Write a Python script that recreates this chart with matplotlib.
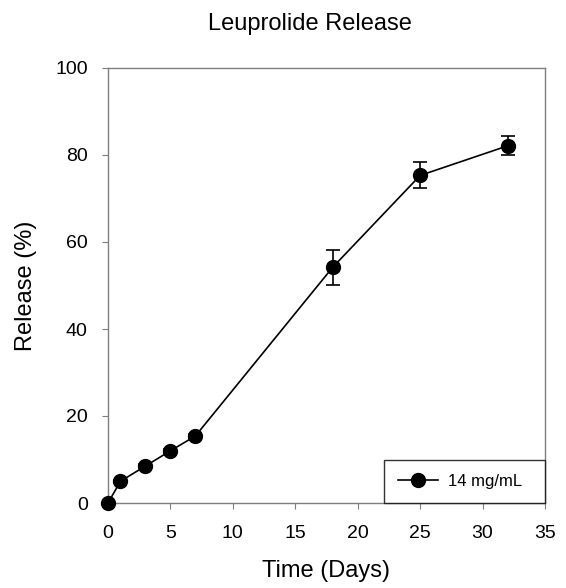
import matplotlib
matplotlib.use("Agg")
import matplotlib.pyplot as plt

plt.rcParams['font.family'] = ['Liberation Sans', 'DejaVu Sans']

time_days = [0, 1, 3, 5, 7, 18, 25, 32]
release_pct = [0, 5.0, 8.5, 12.0, 15.4, 54.2, 75.3, 82.1]
release_err = [0, 0.3, 0.4, 0.4, 0.5, 4.0, 3.0, 2.2]
series_label = "14 mg/mL"

fig = plt.figure(figsize=(5.66, 5.88), dpi=100)
ax = fig.add_axes([108/566, 85/588, 437/566, 435/588])

ax.errorbar(time_days, release_pct, yerr=release_err, fmt='none', ecolor='black',
            capsize=4.7, capthick=1.2, elinewidth=1.2, clip_on=False, zorder=3)
ax.plot(time_days, release_pct, color='black', lw=1.2, marker='o', markersize=10,
        label=series_label, clip_on=False, zorder=4)

ax.set_xlim(0, 35)
ax.set_ylim(0, 100)
ax.set_xticks(range(0, 36, 5))
ax.set_yticks(range(0, 101, 20))
for s in ax.spines.values():
    s.set_color('#7f7f7f')
    s.set_linewidth(1.0)
ax.tick_params(direction='out', length=4.5, color='#7f7f7f', labelsize=14)
ax.tick_params(axis='x', pad=11)
ax.tick_params(axis='y', pad=10)
ax.set_xlabel('Time (Days)', fontsize=17)
ax.set_ylabel('Release (%)', fontsize=17)
ax.xaxis.set_label_coords(0.5, -0.131)
ax.yaxis.set_label_coords(-0.162, 0.5)
fig.text(310/566, 1 - 30/588, 'Leuprolide Release', fontsize=17,
         ha='center', va='baseline')

leg = ax.legend(loc='lower left', bbox_to_anchor=(276/437, 0, 161/437, 0.1),
                mode='expand', frameon=True, fancybox=False, fontsize=12,
                borderaxespad=0, borderpad=0.85, handlelength=2.4,
                handletextpad=0.6, numpoints=1)
leg.get_frame().set_edgecolor('black')
leg.get_frame().set_linewidth(1.0)

fig.savefig('out.png', dpi=100)
